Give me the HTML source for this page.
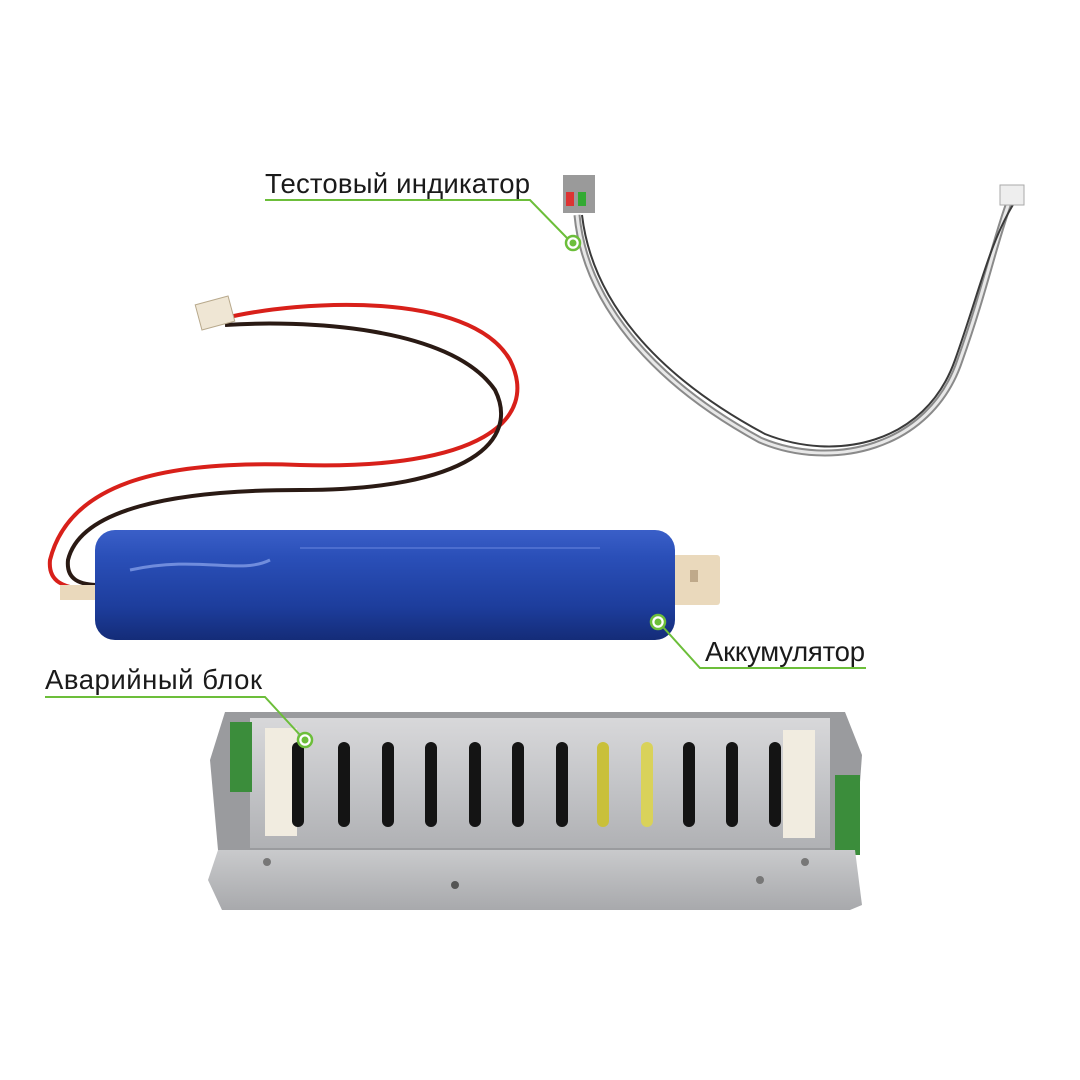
<!DOCTYPE html>
<html><head><meta charset="utf-8"><style>
html,body{margin:0;padding:0;background:#fff;}
svg{display:block}
text{font-family:"Liberation Sans",sans-serif;font-size:27.5px;fill:#1a1a1a}
</style></head><body>
<svg width="1080" height="1080" viewBox="0 0 1080 1080" xmlns="http://www.w3.org/2000/svg">
<defs>
<linearGradient id="blue" x1="0" y1="0" x2="0" y2="1">
<stop offset="0" stop-color="#3a5fc8"/><stop offset="0.25" stop-color="#2a4fb8"/><stop offset="0.7" stop-color="#1d3d9c"/><stop offset="1" stop-color="#142c78"/>
</linearGradient>
<linearGradient id="alu" x1="0" y1="0" x2="0" y2="1">
<stop offset="0" stop-color="#d8d8da"/><stop offset="0.5" stop-color="#c4c5c8"/><stop offset="1" stop-color="#b0b1b4"/>
</linearGradient>
<linearGradient id="lip" x1="0" y1="0" x2="0" y2="1">
<stop offset="0" stop-color="#c9cacc"/><stop offset="1" stop-color="#a8a9ac"/>
</linearGradient>
</defs>

<path d="M577 215 C585 300 650 380 760 440 C830 470 930 450 960 360 C985 290 995 240 1010 200" fill="none" stroke="#8a8a8a" stroke-width="7"/>
<path d="M577 215 C585 300 650 380 760 440 C830 470 930 450 960 360 C985 290 995 240 1010 200" fill="none" stroke="#e8e8e8" stroke-width="3"/>
<path d="M582 215 C592 300 655 375 765 434 C835 462 925 445 955 360 C980 290 990 240 1016 200" fill="none" stroke="#3a3a3a" stroke-width="2"/>
<rect x="563" y="175" width="32" height="38" fill="#9a9a9a"/>
<rect x="566" y="192" width="8" height="14" fill="#d33"/>
<rect x="578" y="192" width="8" height="14" fill="#3a3"/>
<rect x="1000" y="185" width="24" height="20" fill="#eee" stroke="#aaa"/>

<path d="M225 318 C300 300 470 290 510 360 C540 420 480 470 300 465 C170 460 70 480 50 560 C48 580 60 590 100 590" fill="none" stroke="#d8201a" stroke-width="4"/>
<path d="M225 325 C300 320 450 325 495 390 C520 440 470 490 300 490 C170 490 80 510 68 560 C66 580 80 585 100 585" fill="none" stroke="#2a1a14" stroke-width="4"/>
<rect x="198" y="300" width="34" height="26" fill="#efe6d4" stroke="#b8a98c" transform="rotate(-15 215 313)"/>

<rect x="60" y="585" width="50" height="15" fill="#ead9bc"/>
<rect x="660" y="555" width="60" height="50" rx="3" fill="#ead9bc"/>
<rect x="690" y="570" width="8" height="12" fill="#bfa98a"/>
<rect x="95" y="530" width="580" height="110" rx="20" fill="url(#blue)"/>
<path d="M130 570 C200 555 240 575 270 560" stroke="#8fa8ee" stroke-width="3" fill="none" opacity="0.7"/>
<path d="M300 548 L600 548" stroke="#6a88e0" stroke-width="2" opacity="0.5"/>

<polygon points="225,712 845,712 862,755 855,850 218,850 210,760" fill="#9a9b9e"/>
<rect x="250" y="718" width="580" height="130" fill="url(#alu)"/>
<rect x="230" y="722" width="22" height="70" fill="#3b8d3b"/>
<rect x="835" y="775" width="25" height="80" fill="#3b8d3b"/>
<rect x="265" y="728" width="32" height="108" fill="#f1ece0"/>
<rect x="783" y="730" width="32" height="108" fill="#f1ece0"/>
<g fill="#141414">
<rect x="292" y="742" width="12" height="85" rx="6"/>
<rect x="338" y="742" width="12" height="85" rx="6"/>
<rect x="382" y="742" width="12" height="85" rx="6"/>
<rect x="425" y="742" width="12" height="85" rx="6"/>
<rect x="469" y="742" width="12" height="85" rx="6"/>
<rect x="512" y="742" width="12" height="85" rx="6"/>
<rect x="556" y="742" width="12" height="85" rx="6"/>
<rect x="683" y="742" width="12" height="85" rx="6"/>
<rect x="726" y="742" width="12" height="85" rx="6"/>
<rect x="769" y="742" width="12" height="85" rx="6"/>
</g>
<rect x="597" y="742" width="12" height="85" rx="6" fill="#c9c03a"/>
<rect x="641" y="742" width="12" height="85" rx="6" fill="#d9d25a"/>
<polygon points="218,850 855,850 862,905 850,910 222,910 208,880" fill="url(#lip)"/>
<circle cx="267" cy="862" r="4" fill="#777"/><circle cx="805" cy="862" r="4" fill="#777"/>
<circle cx="760" cy="880" r="4" fill="#777"/><circle cx="455" cy="885" r="4" fill="#555"/>

<text x="265" y="193" textLength="265">Тестовый индикатор</text>
<polyline points="265,200 530,200 567,238" fill="none" stroke="#6cbe3a" stroke-width="2"/>
<circle cx="573" cy="243" r="7" fill="#fff" stroke="#6cbe3a" stroke-width="2.5"/><circle cx="573" cy="243" r="3.5" fill="#6cbe3a"/>

<text x="705" y="661" textLength="160">Аккумулятор</text>
<polyline points="866,668 700,668 663,627" fill="none" stroke="#6cbe3a" stroke-width="2"/>
<circle cx="658" cy="622" r="7" fill="#fff" stroke="#6cbe3a" stroke-width="2.5"/><circle cx="658" cy="622" r="3.5" fill="#6cbe3a"/>

<text x="45" y="689" textLength="217">Аварийный блок</text>
<polyline points="45,697 265,697 300,735" fill="none" stroke="#6cbe3a" stroke-width="2"/>
<circle cx="305" cy="740" r="7" fill="#fff" stroke="#6cbe3a" stroke-width="2.5"/><circle cx="305" cy="740" r="3.5" fill="#6cbe3a"/>
</svg>
</body></html>
